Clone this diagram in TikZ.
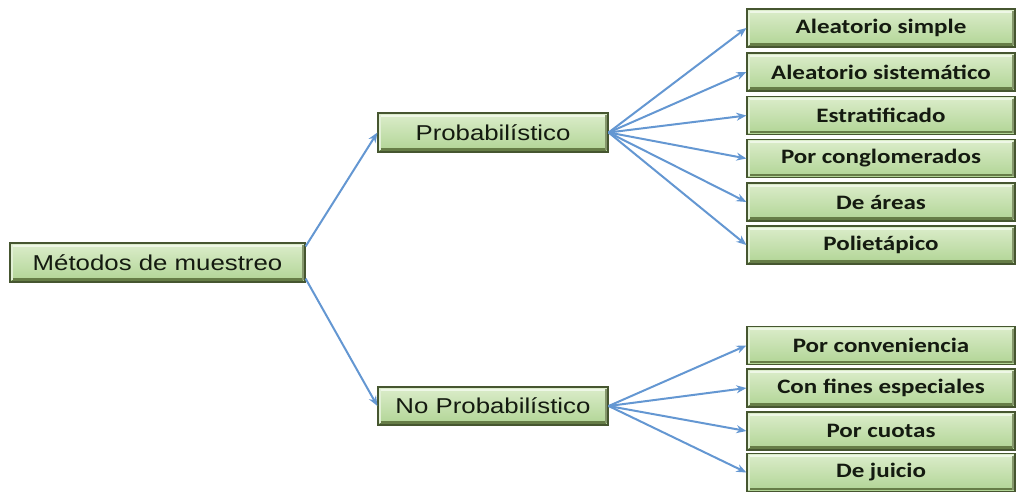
\documentclass[tikz,border=0pt]{standalone}
\usepackage{fontspec}
\usetikzlibrary{arrows.meta}
\newfontfamily\arialf[FakeStretch=1.2]{Liberation Sans}
\newfontfamily\calf[FakeStretch=1.22]{Carlito}
\definecolor{gtop}{HTML}{DCEDCB}
\definecolor{gbot}{HTML}{B0D494}
\definecolor{gedge}{HTML}{465630}
\definecolor{ghi}{HTML}{EEF7E6}
\definecolor{gsh}{HTML}{667D47}
\definecolor{arr}{HTML}{6497D2}
\definecolor{txt}{HTML}{141A10}
\tikzset{
  gbox/.style={rectangle, draw=gedge, line width=1.2pt, top color=gtop, bottom color=gbot,
    inner sep=0pt, text=txt,
    path picture={
      \draw[ghi, line width=2pt] ([shift={(2pt,-2.5pt)}]path picture bounding box.north west) -- ([shift={(-2pt,-2.5pt)}]path picture bounding box.north east);
      \draw[gsh, line width=2.5pt] ([shift={(2pt,2.5pt)}]path picture bounding box.south west) -- ([shift={(-2pt,2.5pt)}]path picture bounding box.south east);
      \draw[gsh!80, line width=2pt] ([shift={(-2.5pt,-2pt)}]path picture bounding box.north east) -- ([shift={(-2.5pt,2pt)}]path picture bounding box.south east);
      \draw[ghi!80!gbot, line width=1.5pt] ([shift={(2pt,-2pt)}]path picture bounding box.north west) -- ([shift={(2pt,2pt)}]path picture bounding box.south west);
    }},
  lbox/.style={gbox, font=\arialf\fontsize{21.5}{25}\selectfont},
  rbox/.style={gbox, minimum width=268pt, minimum height=38pt, font=\calf\bfseries\fontsize{20.5}{24}\selectfont},
  link/.style={arr, line width=2pt, -{Stealth[length=10pt,width=8pt]}}
}
\begin{document}
\begin{tikzpicture}[x=1pt,y=-1pt]
\useasboundingbox (0,0) rectangle (1017,491);
\node[lbox, minimum width=295pt, minimum height=39pt] (m) at (157.5,262.5) {Métodos de muestreo};
\node[lbox, minimum width=230pt, minimum height=39pt] (p) at (493,132.5) {Probabilístico};
\node[lbox, minimum width=230pt, minimum height=38pt] (n) at (493,406) {No Probabilístico};
\node[rbox] (r1) at (881,28) {Aleatorio simple};
\node[rbox] (r2) at (881,72) {Aleatorio sistemático};
\node[rbox] (r3) at (881,115.5) {Estratificado};
\node[rbox] (r4) at (881,158.5) {Por conglomerados};
\node[rbox] (r5) at (881,202) {De áreas};
\node[rbox] (r6) at (881,245) {Polietápico};
\node[rbox] (s1) at (881,345.5) {Por conveniencia};
\node[rbox] (s2) at (881,388) {Con fines especiales};
\node[rbox] (s3) at (881,431) {Por cuotas};
\node[rbox] (s4) at (881,472.5) {De juicio};
\draw[link] ([yshift=-4pt]m.north east) -- (p.west);
\draw[link] ([yshift=4pt]m.south east) -- (n.west);
\foreach \t in {r1,r2,r3,r4,r5,r6} \draw[link] (p.east) -- (\t.west);
\foreach \t in {s1,s2,s3,s4} \draw[link] (n.east) -- (\t.west);
\end{tikzpicture}
\end{document}
